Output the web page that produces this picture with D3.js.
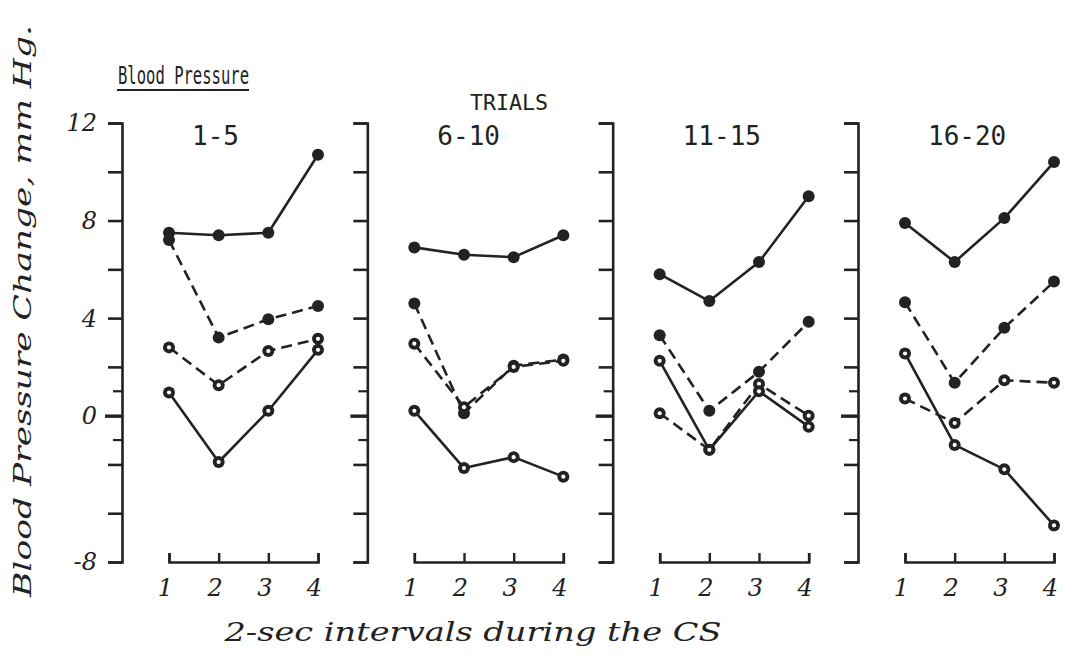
<!DOCTYPE html>
<html>
<head>
<meta charset="utf-8">
<script src="https://cdn.jsdelivr.net/npm/d3@7"></script>
<style>
  html, body { margin: 0; padding: 0; background: #fff; }
  svg { display: block; }
</style>
</head>
<body>
<svg id="chart" width="1078" height="656"></svg>
<script>
// Interval numbers along each panel's x axis (2-sec intervals of the CS)
const intervals = [1, 2, 3, 4];
// Blocks of trials, one panel each
const trialBlocks = ["1-5", "6-10", "11-15", "16-20"];

// Blood pressure change (mm Hg) per block, per interval
const solidFilled  = [[7.5, 7.4, 7.5, 10.7], [6.9, 6.6, 6.5, 7.4], [5.8, 4.7, 6.3, 9.0], [7.9, 6.3, 8.1, 10.4]];
const dashedFilled = [[7.2, 3.2, 3.95, 4.5], [4.6, 0.1, 2.05, 2.3], [3.3, 0.2, 1.8, 3.85], [4.65, 1.35, 3.6, 5.5]];
const dashedOpen   = [[2.8, 1.25, 2.65, 3.15], [2.95, 0.35, 2.0, 2.25], [0.1, -1.4, 1.3, 0.0], [0.7, -0.3, 1.45, 1.35]];
const solidOpen    = [[0.95, -1.9, 0.2, 2.7], [0.2, -2.15, -1.7, -2.5], [2.25, -1.4, 1.0, -0.45], [2.55, -1.2, -2.2, -4.5]];

// Y axis ticks: every 2 units, labelled ones with their printed text
const yTicks = [-6, -4, -2, 0, 2, 4, 6, 8, 10, 12];
const yMinorTicks = [-1, 1];
const yLabelValues = [12, 8, 4, 0, -6];
const yLabelTexts = ["12", "8", "4", "0", "-8"];

const INK = "#222";
const svg = d3.select("#chart");

const y = d3.scaleLinear().domain([-6, 12]).range([562, 123]);
const panelX = d3.scalePoint().domain(trialBlocks).range([122, 858]);
const x = d3.scaleLinear().domain([1, 4]).range([47, 196]);

const seriesDefs = [
  { values: solidFilled, dashed: false, open: false },
  { values: dashedFilled, dashed: true, open: false },
  { values: dashedOpen, dashed: true, open: true },
  { values: solidOpen, dashed: false, open: true }
];

const line = d3.line().x((d, i) => x(intervals[i])).y(d => y(d));

trialBlocks.forEach((block, p) => {
  const g = svg.append("g").attr("transform", `translate(${panelX(block)},0)`);

  // vertical axis (bracket with ticks to the left)
  const yAxis = d3.axisLeft(y).tickValues(yTicks).tickSize(14).tickSizeOuter(14).tickFormat("");
  const ya = g.append("g").call(yAxis);
  ya.select(".domain").attr("stroke", INK).attr("stroke-width", 2.6);
  ya.selectAll(".tick line").attr("stroke", INK).attr("stroke-width", 2.6);
  ya.selectAll(".tick").filter(d => d === 0).select("line").attr("x2", -17).attr("stroke-width", 3.4);

  g.append("g").selectAll("line").data(yMinorTicks).join("line")
    .attr("x1", -9).attr("x2", 0)
    .attr("y1", d => y(d)).attr("y2", d => y(d))
    .attr("stroke", INK).attr("stroke-width", 2.2);

  if (p === 0) {
    g.append("g").selectAll("text").data(yLabelValues).join("text")
      .attr("x", -25).attr("y", d => y(d)).attr("dy", "0.35em")
      .attr("text-anchor", "end")
      .attr("font-family", "DejaVu Serif").attr("font-style", "italic")
      .attr("font-size", 24).attr("fill", INK)
      .text((d, i) => yLabelTexts[i]);
  }

  // horizontal axis bracket under the points
  const xAxis = d3.axisBottom(x).tickValues(intervals).tickSize(-9).tickSizeOuter(-9).tickPadding(17).tickFormat(d3.format("d"));
  const xa = g.append("g").attr("transform", `translate(0,${y(-6)})`).call(xAxis);
  xa.select(".domain").attr("stroke", INK).attr("stroke-width", 2.6);
  xa.selectAll(".tick line").attr("stroke", INK).attr("stroke-width", 2.4);
  xa.selectAll(".tick text")
    .attr("font-family", "DejaVu Serif").attr("font-style", "italic")
    .attr("font-size", 24).attr("fill", INK).attr("dx", -4);

  // panel title
  g.append("text")
    .attr("x", 70).attr("y", 145)
    .attr("font-family", "DejaVu Sans Mono").attr("font-size", 26).attr("fill", INK)
    .text(block);

  // series lines
  seriesDefs.forEach(s => {
    g.append("path").datum(s.values[p])
      .attr("d", line)
      .attr("fill", "none").attr("stroke", INK).attr("stroke-width", 2.6)
      .attr("stroke-dasharray", s.dashed ? "11,6" : null)
      .attr("stroke-linejoin", "round");
  });

  // series markers
  seriesDefs.forEach(s => {
    const m = g.append("g");
    m.selectAll("circle.dot").data(s.values[p]).join("circle")
      .attr("class", "dot")
      .attr("cx", (d, i) => x(intervals[i])).attr("cy", d => y(d))
      .attr("r", 6).attr("fill", INK);
    if (s.open) {
      m.selectAll("circle.hole").data(s.values[p]).join("circle")
        .attr("class", "hole")
        .attr("cx", (d, i) => x(intervals[i])).attr("cy", d => y(d))
        .attr("r", 2.1).attr("fill", "#fff");
    }
  });
});

// headings
svg.append("text")
  .attr("x", 118).attr("y", 84)
  .attr("font-family", "DejaVu Sans Mono").attr("font-size", 24).attr("fill", INK)
  .attr("textLength", 131).attr("lengthAdjust", "spacingAndGlyphs")
  .text("Blood Pressure");
svg.append("line")
  .attr("x1", 117).attr("x2", 249).attr("y1", 90).attr("y2", 90)
  .attr("stroke", INK).attr("stroke-width", 1.8);

svg.append("text")
  .attr("x", 470).attr("y", 110)
  .attr("font-family", "DejaVu Sans Mono").attr("font-size", 22).attr("fill", INK)
  .attr("textLength", 78).attr("lengthAdjust", "spacingAndGlyphs")
  .text("TRIALS");

// axis titles
svg.append("text")
  .attr("transform", "translate(31,311) rotate(-90)")
  .attr("text-anchor", "middle")
  .attr("font-family", "DejaVu Serif").attr("font-style", "italic")
  .attr("font-size", 25).attr("fill", INK)
  .attr("textLength", 572).attr("lengthAdjust", "spacingAndGlyphs")
  .text("Blood Pressure Change, mm Hg.");

svg.append("text")
  .attr("x", 473).attr("y", 641)
  .attr("text-anchor", "middle")
  .attr("font-family", "DejaVu Serif").attr("font-style", "italic")
  .attr("font-size", 26).attr("fill", INK)
  .attr("textLength", 497).attr("lengthAdjust", "spacingAndGlyphs")
  .text("2-sec intervals during the CS");
</script>
</body>
</html>
